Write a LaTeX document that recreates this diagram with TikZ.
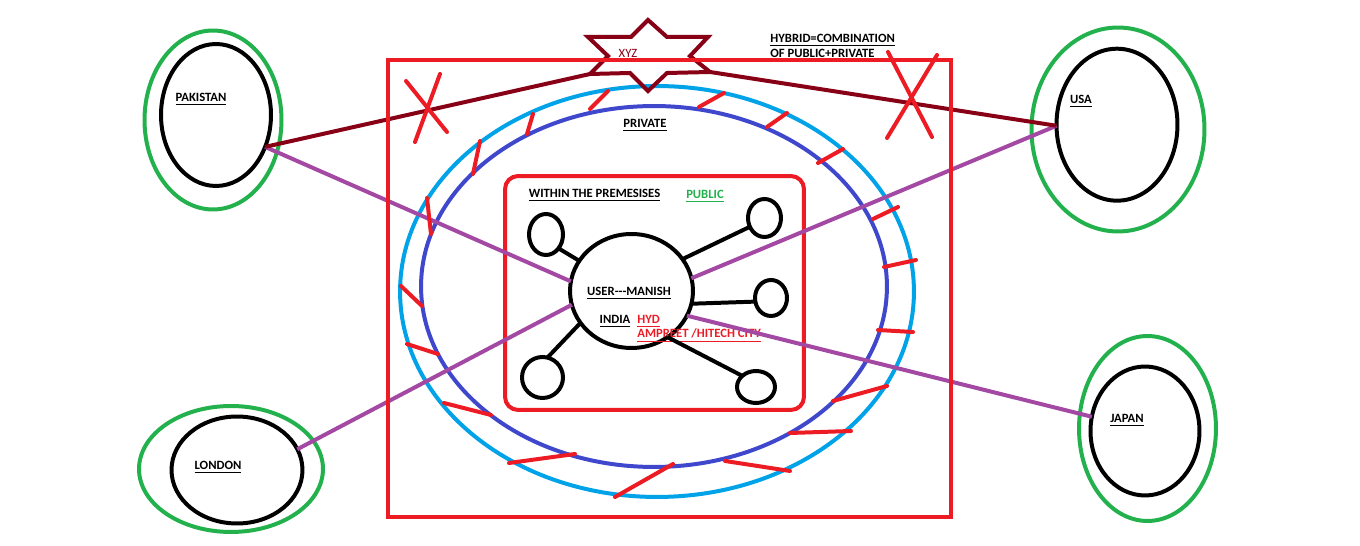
\documentclass[tikz,border=0pt]{standalone}
\usepackage{fontspec}
\setmainfont{Carlito}
\usetikzlibrary{shapes.geometric}
\definecolor{pred}{HTML}{ED1C24}
\definecolor{dred}{HTML}{880015}
\definecolor{lblue}{HTML}{00A2E8}
\definecolor{indig}{HTML}{3F48CC}
\definecolor{pgreen}{HTML}{22B14C}
\definecolor{purp}{HTML}{A349A4}
\tikzset{
  thick4/.style={line width=2.27pt},
  oval/.style={ellipse, draw, thick4, inner sep=0pt, outer sep=0pt},
  cin/.style={oval, draw=black},
  cout/.style={oval, draw=pgreen},
  lbl/.style={anchor=base, inner sep=0pt, font=\fontsize{7.2}{8.4}\selectfont\bfseries},
  lblw/.style={lbl, anchor=base west},
  blk/.style={draw=black, thick4},
  purline/.style={draw=purp, thick4},
  dredline/.style={draw=dred, thick4},
  redtick/.style={draw=pred, thick4, line cap=round},
}
\begin{document}
\begin{tikzpicture}[x=0.02cm, y=-0.02cm]
\useasboundingbox (0,0) rectangle (1360,546);
\fill[white] (0,0) rectangle (1360,546);

% countries
\node[cout, minimum width=2.74cm, minimum height=3.58cm] (pakg) at (213,120) {};
\node[cin, minimum width=2.20cm, minimum height=2.84cm] (pak) at (216,115) {};
\node[lbl] (pakl) at (201,102) {\underline{PAKISTAN}};

\node[cout, minimum width=3.46cm, minimum height=4.08cm] (usag) at (1118,129.5) {};
\node[cin, minimum width=2.42cm, minimum height=3.04cm] (usa) at (1117,124.7) {};
\node[lbl] (usal) at (1081,104) {\underline{USA}};

\node[cout, minimum width=3.68cm, minimum height=2.52cm] (long) at (231,469) {};
\node[cin, minimum width=2.62cm, minimum height=2.14cm] (lon) at (237,470) {};
\node[lbl] (lonl) at (218,470) {\underline{LONDON}};

\node[cout, minimum width=2.74cm, minimum height=3.70cm] (japg) at (1147.5,428.5) {};
\node[cin, minimum width=2.18cm, minimum height=2.58cm] (jap) at (1145,431) {};
\node[lbl] (japl) at (1127,423) {\underline{JAPAN}};

% private cloud rings
\node[oval, draw=lblue, minimum width=10.28cm, minimum height=8.22cm] (ringout) at (657,291.5) {};
\node[oval, draw=indig, minimum width=9.32cm, minimum height=7.22cm] (ringin) at (654,286.5) {};
\node[lbl] (privl) at (645,128) {\underline{PRIVATE}};

% premises box
\node[draw=pred, thick4, rounded corners=0.26cm, inner sep=0pt, minimum width=5.98cm, minimum height=4.68cm] (prem) at (654.5,293) {};
\node[lbl] (withl) at (594.5,198) {\underline{WITHIN THE PREMESISES}};
\node[lbl, text=pgreen] (publ) at (705,199) {\underline{PUBLIC}};

% user and devices
\node[cin, minimum width=2.46cm, minimum height=2.28cm] (user) at (631.5,291) {};
\node[cin, minimum width=0.68cm, minimum height=0.82cm] (dtl) at (546,234.5) {};
\node[cin, minimum width=0.66cm, minimum height=0.76cm] (dtr) at (764.5,218) {};
\node[cin, minimum width=0.64cm, minimum height=0.72cm] (dr) at (771,298) {};
\node[cin, minimum width=0.82cm, minimum height=0.82cm] (dbl) at (542.5,377.5) {};
\node[cin, minimum width=0.76cm, minimum height=0.64cm] (dbr) at (756,387) {};

\node[lbl] (userl) at (629,296) {\underline{USER-{}-{}-MANISH}};
\node[lbl] (indl) at (615,324) {\underline{INDIA}};
\node[lblw, text=pred] (hydl) at (637,324) {\underline{HYD}};
\node[lblw, text=pred] (ampl) at (637,338) {\underline{AMPREET /HITECH CITY}};

\draw[blk] (user.150) -- (dtl.-48);
\draw[blk] (user.32) -- (dtr.211);
\draw[blk] (user.-12) -- (dr.193);
\draw[blk] (user.212) -- (dbl.76);
\draw[blk] (user.-52) -- (dbr.141);

% purple links
\draw[purline] (pak.-33) -- (user.171);
\draw[purline] (usa.181) -- (user.12);
\draw[purline] (lon.19) -- (user.193);
\draw[purline] (jap.165) -- (user.-24);

% star XYZ
\coordinate (sT) at (648,20);
\coordinate (sUR) at (708,37);
\coordinate (sLR) at (710,72);
\coordinate (sB) at (648,91);
\coordinate (sLL) at (590,74);
\coordinate (sUL) at (588,37);
\draw[dred, thick4, line join=miter] (sT) -- (667,37) -- (sUR) -- (690,56) -- (sLR) -- (667,73) -- (sB) -- (630,73) -- (sLL) -- (608,56) -- (sUL) -- (631,37) -- cycle;
\node[lbl, text=dred, font=\fontsize{7.2}{8.4}\selectfont] (xyzl) at (628,58) {XYZ};

\draw[dredline] (pak.-33) -- (sLL);
\draw[dredline] (sLR) -- (usa.181);

% hybrid label
\node[lblw] (hyb1) at (770,43) {\underline{HYBRID=COMBINATION}};
\node[lblw] (hyb2) at (770,58) {\underline{OF PUBLIC+PRIVATE}};

% outer hybrid square
\node[draw=pred, thick4, inner sep=0pt, minimum width=11.26cm, minimum height=9.14cm] (hybsq) at (669.5,288.5) {};

% red crosses
\draw[redtick] (406,81) -- (447,132);
\draw[redtick] (440,74) -- (415,142);
\draw[redtick] (888,52) -- (932,137);
\draw[redtick] (937,55) -- (887,138);

% red ticks between rings
\draw[redtick] (590,109) -- (608,91);
\draw[redtick] (699,107) -- (724,93);
\draw[redtick] (767,127) -- (787,113);
\draw[redtick] (818,163) -- (843,149);
\draw[redtick] (873,219) -- (898,207);
\draw[redtick] (884,267) -- (916,260);
\draw[redtick] (878,330) -- (913,332);
\draw[redtick] (833,401) -- (887,386);
\draw[redtick] (790,433) -- (851,431);
\draw[redtick] (725,461) -- (790,471);
\draw[redtick] (615,497) -- (673,464);
\draw[redtick] (509,463) -- (575,454);
\draw[redtick] (444,403) -- (491,415);
\draw[redtick] (407,344) -- (438,354);
\draw[redtick] (401,286) -- (422,306);
\draw[redtick] (427,198) -- (431,234);
\draw[redtick] (480,141) -- (473,174);
\draw[redtick] (533,114) -- (527,134);
\end{tikzpicture}
\end{document}
